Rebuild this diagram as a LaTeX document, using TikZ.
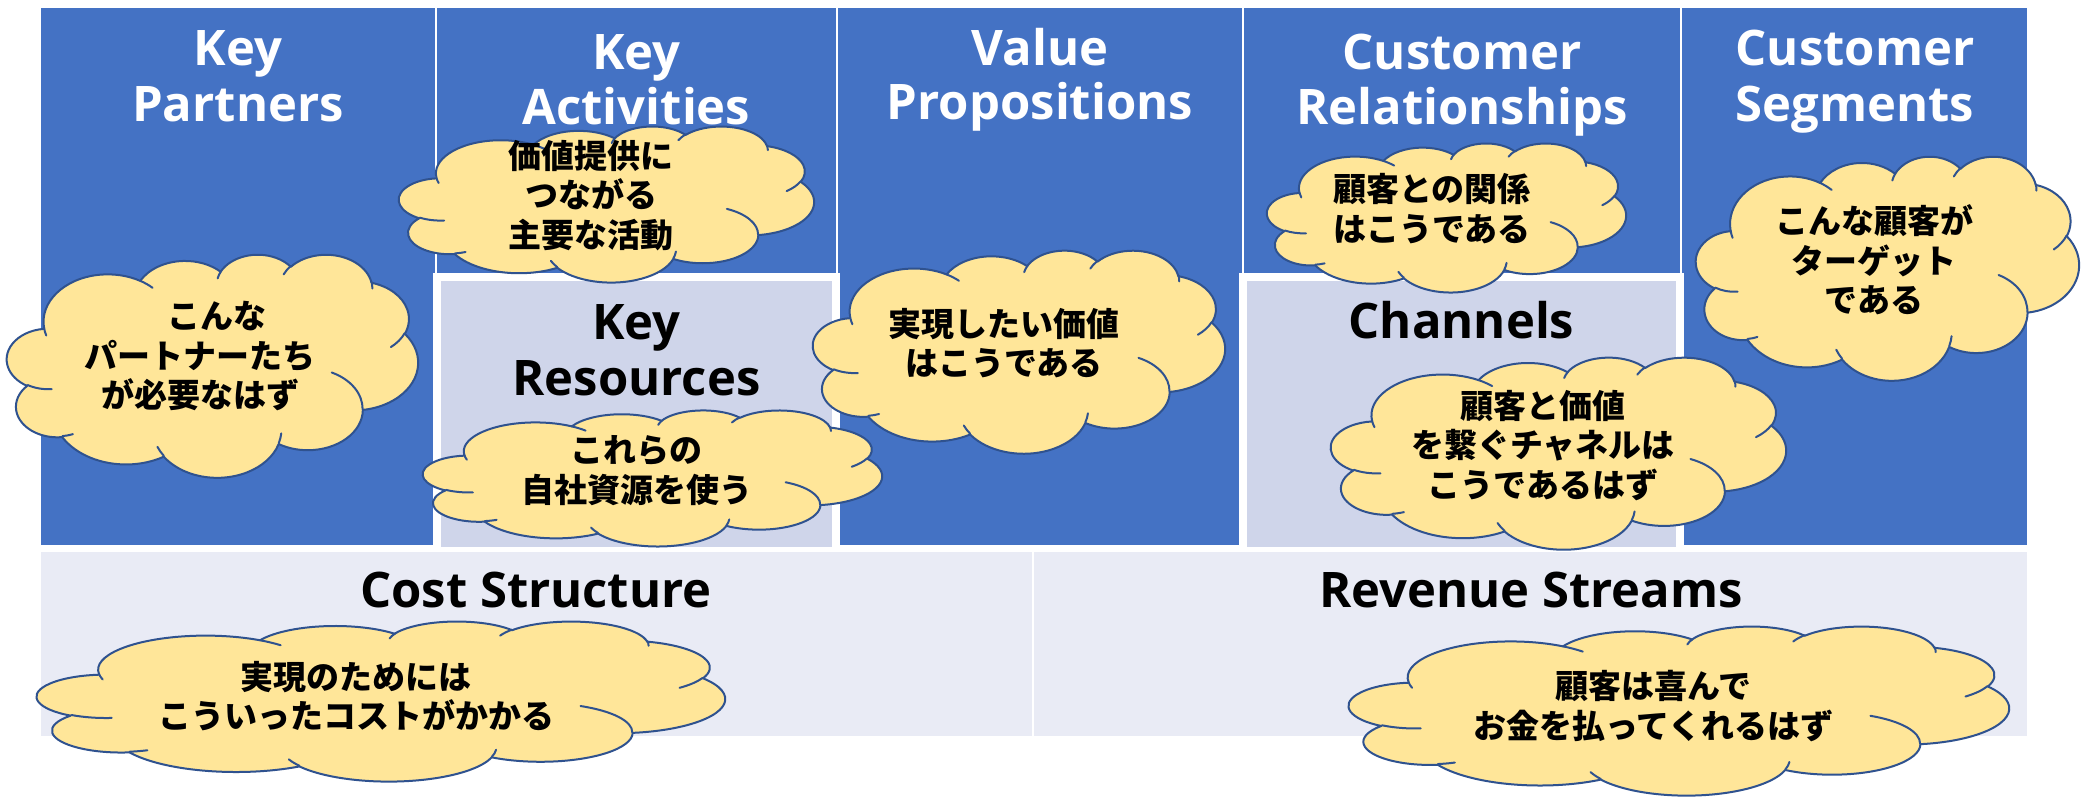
\documentclass[tikz,border=0pt]{standalone}
\usepackage{fontspec}
\setmainfont{Open Sans}
\newfontfamily\jp{Noto Sans CJK JP}

\definecolor{bmcblue}{HTML}{4472C4}
\definecolor{bmclav}{HTML}{CFD5EA}
\definecolor{bmclight}{HTML}{E9EBF5}
\definecolor{cloudfill}{HTML}{FFE699}
\definecolor{cloudedge}{HTML}{2F528F}

% Parametric start angle and sweep of one elliptic puff (radii wR,hR; angles in degrees)
\newcommand\cldprep[5]{%
  \pgfmathsetmacro\cldta{atan2((#2)*sin(#4),(#3)*cos(#4))}%
  \pgfmathsetmacro\cldtb{atan2((#2)*sin((#4)+(#5)),(#3)*cos((#4)+(#5)))}%
  \pgfmathsetmacro\cldtd{mod(\cldtb-\cldta+720,360)}%
  \expandafter\xdef\csname cldS#1\endcsname{\cldta}%
  \expandafter\xdef\csname cldD#1\endcsname{\cldtd}%
}
\newcommand\carc[3]{arc[start angle=\csname cldS#1\endcsname,
  delta angle=\csname cldD#1\endcsname, x radius=#2, y radius=#3]}

% Cloud outline in a 100 x 100 frame, placed in the box (x,y,W,H)
\newcommand\drawcloud[4]{%
  \begin{scope}[shift={(#1,#2)}, xscale=#3/100, yscale=#4/100]
    \filldraw[cloudbody] (9.0278,33.2639)
      \carc{1}{15.632}{21.273} \carc{2}{12.345}{16.822} \carc{3}{10.104}{13.762}
      \carc{4}{11.243}{15.266} \carc{5}{12.345}{16.836} \carc{6}{15.683}{21.343}
      \carc{7}{13.391}{18.211} \carc{8}{15.630}{21.331} \carc{9}{17.870}{24.405}
      \carc{10}{10.093}{13.699} \carc{11}{10.058}{13.762} -- cycle;
    \draw[cloudline]
      (10.863,60.595) \carc{a}{10.058}{13.762}
      (16.037,80.785) \carc{b}{10.093}{13.699}
      (38.144,90.486) \carc{c}{15.630}{21.331}
      (66.729,80.442) \carc{d}{15.630}{21.331}
      (79.002,53.134) \carc{e}{13.391}{18.211}
      (96.755,35.542) \carc{f}{12.345}{16.836}
      (88.713,12.560) \carc{g}{11.243}{15.266}
      (67.310,9.148)  \carc{h}{11.243}{15.266}
      (51.252,10.926) \carc{i}{10.104}{13.762}
      (32.407,12.019) \carc{j}{15.632}{21.273}
      (9.553,36.549)  \carc{k}{15.632}{21.273};
  \end{scope}}

\tikzset{
  blk/.style={fill=bmcblue, draw=white, line width=1.5pt, anchor=north west,
    inner sep=0pt, outer sep=0pt},
  subblk/.style={fill=bmclav, draw=white, line width=8pt, anchor=north west,
    inner sep=0pt, outer sep=0pt},
  lowblk/.style={fill=bmclight, draw=white, line width=1.5pt, anchor=north west,
    inner sep=0pt, outer sep=0pt},
  ttl/.style={font=\bfseries\fontsize{49}{56}\selectfont, inner sep=0pt, anchor=base},
  wttl/.style={ttl, text=white},
  bttl/.style={ttl, text=black},
  cloudbody/.style={fill=cloudfill, draw=cloudedge, line width=2pt, line join=round},
  cloudline/.style={draw=cloudedge, line width=2pt, line cap=round},
  ctext/.style={font=\jp\bfseries\fontsize{33}{39.5}\selectfont, align=center,
    inner sep=0pt, anchor=center, text=black},
}

\begin{document}
\begin{tikzpicture}[x=1pt, y=-1pt]
  \useasboundingbox (0,0) rectangle (2087,796);
  \fill[white] (0,0) rectangle (2087,796);

  % puff geometry (PowerPoint cloud, 43200-unit frame scaled to 100)
  \cldprep{1}{6753}{9190}{-190.4875}{123.7805}
  \cldprep{2}{5333}{7267}{-144.1024}{89.9452}
  \cldprep{3}{4365}{5945}{-145.8079}{99.7230}
  \cldprep{4}{4857}{6595}{-130.9861}{117.2417}
  \cldprep{5}{5333}{7273}{-78.7089}{109.0269}
  \cldprep{6}{6775}{9220}{-46.2673}{130.2690}
  \cldprep{7}{5785}{7867}{0.6250}{114.0333}
  \cldprep{8}{6752}{9215}{22.4516}{115.1726}
  \cldprep{9}{7720}{10543}{66.2426}{75.7110}
  \cldprep{10}{4360}{5918}{-274.9421}{146.7356}
  \cldprep{11}{4345}{5945}{-246.8285}{152.5189}
  \cldprep{a}{4345}{5945}{86.7420}{26.4295}
  \cldprep{b}{4360}{5918}{73.6105}{11.4475}
  \cldprep{c}{6752}{9215}{137.6242}{14.0811}
  \cldprep{d}{6752}{9215}{6.4533}{15.9984}
  \cldprep{e}{5785}{7867}{-70.2924}{70.9174}
  \cldprep{f}{5333}{7273}{30.3180}{27.7515}
  \cldprep{g}{4857}{6595}{-13.7443}{14.8589}
  \cldprep{h}{4857}{6595}{-149.1815}{18.1954}
  \cldprep{i}{4365}{5945}{-163.4943}{17.6864}
  \cldprep{j}{6753}{9190}{-66.7070}{12.3194}
  \cldprep{k}{6753}{9190}{157.6544}{11.8582}

  % canvas blocks
  \node[blk, minimum width=396pt, minimum height=539pt] (kp) at (40,7) {};
  \node[blk, minimum width=401pt, minimum height=267pt] (ka) at (436,7) {};
  \node[blk, minimum width=406pt, minimum height=539pt] (vp) at (837,7) {};
  \node[blk, minimum width=438pt, minimum height=267pt] (cr) at (1243,7) {};
  \node[blk, minimum width=347pt, minimum height=539pt] (cs) at (1681,7) {};
  \node[subblk, minimum width=399pt, minimum height=274pt] (kr) at (437,277) {};
  \node[subblk, minimum width=437pt, minimum height=274pt] (ch) at (1243,277) {};
  \node[lowblk, minimum width=993pt, minimum height=186pt] (cost) at (40,551) {};
  \node[lowblk, minimum width=995pt, minimum height=186pt] (rev) at (1033,551) {};

  % block titles
  \node[wttl] (kp1) at (238,65) {Key};
  \node[wttl] (kp2) at (238,121) {Partners};
  \node[wttl] (ka1) at (636.5,69) {Key};
  \node[wttl] (ka2) at (636.5,124) {Activities};
  \node[wttl] (vp1) at (1040,65) {Value};
  \node[wttl] (vp2) at (1040,119) {Propositions};
  \node[wttl] (cr1) at (1462,69) {Customer};
  \node[wttl] (cr2) at (1462,124) {Relationships};
  \node[wttl] (cs1) at (1855,65) {Customer};
  \node[wttl] (cs2) at (1855,121) {Segments};
  \node[bttl] (kr1) at (636.5,339) {Key};
  \node[bttl] (kr2) at (636.5,395) {Resources};
  \node[bttl] (ch1) at (1461.5,338) {Channels};
  \node[bttl] (cost1) at (536,607) {Cost Structure};
  \node[bttl] (rev1) at (1531,607) {Revenue Streams};

  % clouds with their notes
  \drawcloud{399}{126}{415}{156}
  \node[ctext] (nka) at (591,195.5) {価値提供に\\つながる\\主要な活動};
  \drawcloud{7}{254}{411}{223}
  \node[ctext] (nkp) at (200,356.5) {\hspace*{1em}こんな\\パートナーたち\\が必要なはず};
  \drawcloud{813}{250}{412}{203}
  \node[ctext] (nvp) at (1004,343) {実現したい価値\\はこうである};
  \drawcloud{423}{410}{459}{136}
  \node[ctext] (nkr) at (636.5,470.5) {これらの\\自社資源を使う};
  \drawcloud{1267}{143}{359}{149}
  \node[ctext] (ncr) at (1432,208.5) {顧客との関係\\はこうである};
  \drawcloud{1696}{156}{383}{224}
  \node[ctext] (ncs) at (1874,260) {こんな顧客が\\ターゲット\\である};
  \drawcloud{1331}{357}{455}{192}
  \node[ctext] (nch) at (1543,445.5) {顧客と価値\\を繋ぐチャネルは\\こうであるはず};
  \drawcloud{37}{621}{688}{160}
  \node[ctext] (ncost) at (356,696) {実現のためには\\こういったコストがかかる};
  \drawcloud{1349}{626}{660}{169}
  \node[ctext] (nrev) at (1653.5,706) {顧客は喜んで\\お金を払ってくれるはず};
\end{tikzpicture}
\end{document}
